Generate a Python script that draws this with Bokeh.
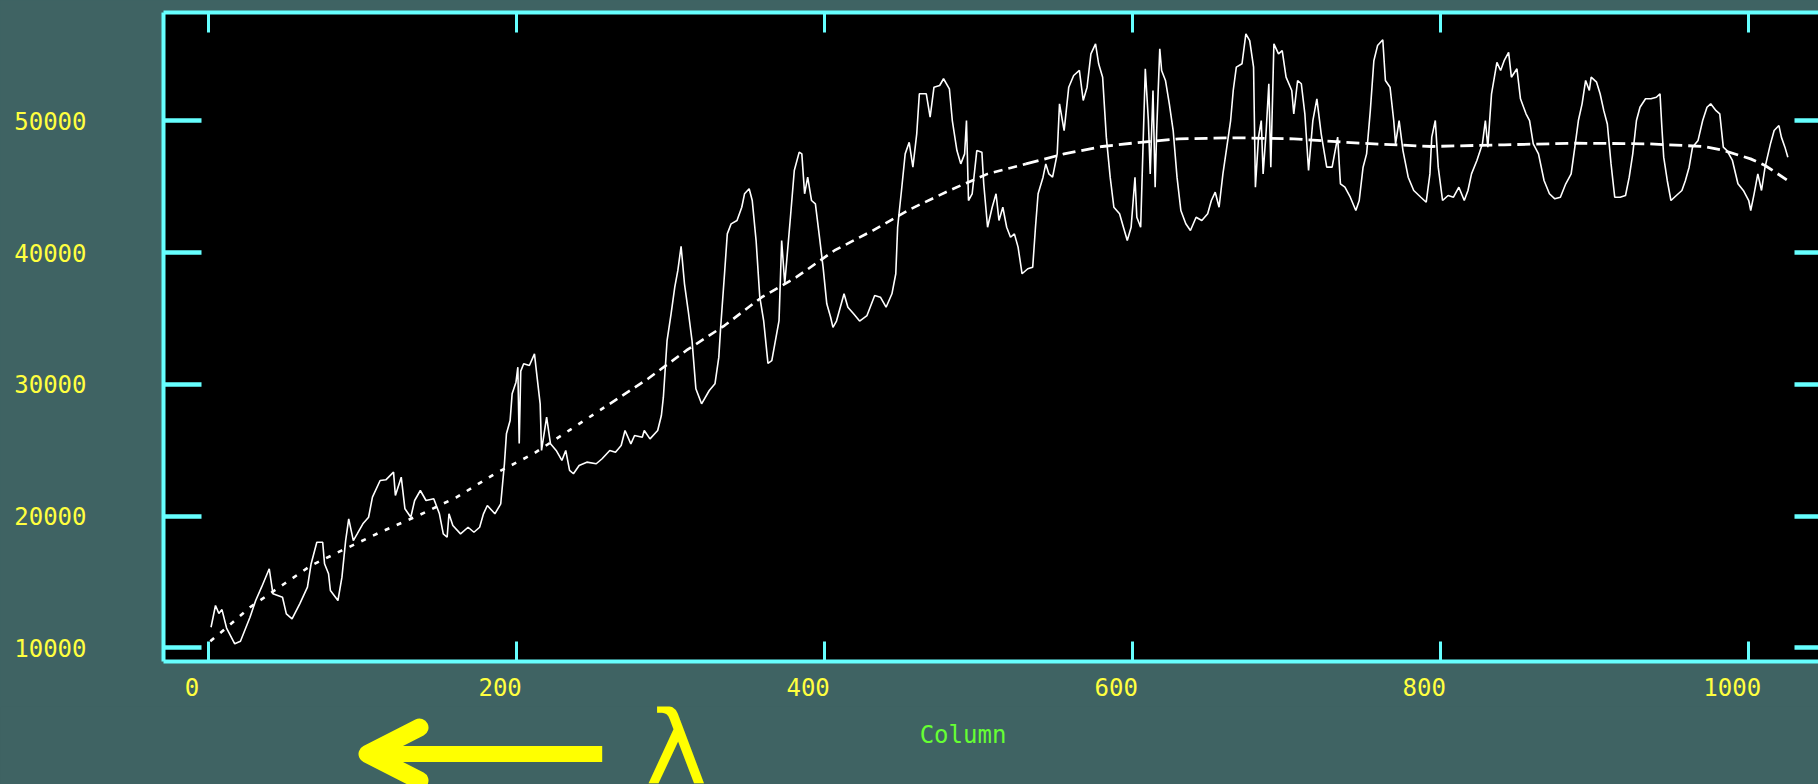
from bokeh.plotting import figure
from bokeh.models import LinearAxis, FixedTicker, Range1d
from bokeh.layouts import column as bk_column
from bokeh.core.properties import value
from bokeh.embed import file_html
from bokeh.resources import INLINE

# ---------------- data ----------------
column = [1.9, 4.8, 7, 9, 12, 17.3, 21, 27.2, 30.9, 34.7, 39.7, 42.1, 48.3, 50.8, 54.5, 59.5, 64.5, 66.9,
          70.6, 74.4, 75.6, 78.2, 79.4, 84.3, 86.9, 89.3, 91.3, 94.3, 96.8, 100.5, 104.2, 106.7, 111.7,
          115.4, 120.4, 121.6, 125.4, 127.8, 131.6, 134.1, 137.8, 141.5, 146.5, 150.2, 152.7, 155.2,
          156.4, 158.9, 163.9, 168.8, 172.6, 176.3, 178.8, 181.3, 186.2, 190, 191.2, 192.4, 193.7, 196.1,
          197.4, 199.9, 201.1, 202, 203, 204.9, 208.6, 211.9, 213.6, 215.6, 216.5, 219.8, 222.3, 226,
          229.7, 232.2, 234.7, 237.2, 240.9, 245.9, 252, 255.8, 260.8, 264.5, 268.2, 270.7, 274.5, 276.9,
          281.9, 283.2, 286.9, 291.9, 294.3, 295.6, 298, 300.6, 303, 305, 307.1, 309.3, 311.7, 314.2,
          316.7, 320.4, 325.4, 329.1, 331.6, 332.8, 335.3, 337.1, 339.6, 343.4, 346.5, 348.3, 351.3,
          353.3, 355.8, 358.2, 360.7, 363.5, 366, 370.7, 372.4, 374.4, 378.1, 380.6, 383.8, 385.5, 387.3,
          389.3, 391.8, 394.3, 396.7, 399.3, 401.7, 404.2, 405.7, 408, 412.9, 415.4, 419.1, 423, 427.8,
          432.8, 436.5, 440.2, 444, 446.5, 447.7, 450.2, 452.6, 455.2, 457.6, 460.1, 461.8, 466.3, 468.8,
          471.3, 475, 477.5, 481.3, 483.2, 486.2, 488.7, 491.2, 492.4, 493.7, 496.1, 499.1, 502.4, 503.6,
          506.1, 509.1, 511.6, 513.5, 516, 518.5, 521, 523.5, 525.9, 528.5, 532.2, 535.4, 537.2, 538.9,
          542.1, 543.9, 545.9, 548.3, 551.3, 552.8, 555.8, 558.8, 562, 565.7, 568.2, 570.7, 573.2, 576.2,
          578.2, 580.8, 583.2, 585.7, 588.1, 591.8, 594.3, 596.8, 599.3, 601.8, 603, 605.5, 608.5, 610.5,
          611.7, 613.5, 614.9, 615.9, 617.9, 619.1, 621.6, 624.1, 626.6, 629.1, 631.6, 634.8, 637.8,
          641.5, 645.2, 649, 651.4, 653.9, 656.4, 658.9, 661.4, 663.9, 665.6, 667.6, 671.3, 673.8, 676.3,
          678.8, 680, 682, 683.8, 685, 687, 688.7, 690, 692, 695, 697.4, 699.9, 703.6, 704.9, 707.4,
          709.8, 712.1, 714.5, 717.3, 719.9, 722.7, 726.3, 729.8, 733.4, 735.2, 738.1, 741.6, 745.2,
          747.4, 749.9, 752.2, 754.6, 756.9, 759.3, 762.7, 764.4, 767.4, 769.8, 771, 773.3, 775.8, 779.2,
          782.8, 787.4, 790.9, 793.3, 794.5, 796.8, 798.7, 801.5, 805.1, 808.6, 812.1, 815.6, 818, 820.3,
          823.8, 827.4, 829.3, 830.9, 833.3, 836.8, 839.2, 841.5, 844.4, 846.2, 849.8, 852.1, 855.7, 858,
          860.4, 863.8, 867.4, 870.9, 874.4, 878, 881.5, 885, 887.4, 889.7, 892.1, 894.4, 896.8, 898,
          901.5, 903.8, 906.2, 908.5, 910.9, 913.3, 916.8, 920.3, 922.7, 925, 927.4, 929.7, 933.3, 936.8,
          940.3, 942.7, 943.9, 945.1, 947.4, 949.8, 953.3, 956.9, 959.2, 961.6, 963.8, 967.4, 970.4,
          973.2, 975.6, 979.1, 981.5, 983.8, 986.2, 989.7, 993.3, 996.8, 1000.3, 1001.6, 1003.8, 1006.2,
          1008.6, 1010.9, 1014.4, 1016.8, 1019.9, 1021.5, 1023.8, 1025.7]
counts = [11560, 13210, 12600, 12900, 11500, 10300, 10500, 12320, 13590, 14600, 16000, 14100, 13840, 12580,
          12200, 13340, 14600, 16380, 18010, 18010, 16380, 15620, 14350, 13590, 15360, 18140, 19790, 18140,
          18650, 19410, 19910, 21430, 22700, 22750, 23330, 21560, 22950, 20550, 19910, 21180, 21940, 21180,
          21310, 20170, 18650, 18390, 20170, 19280, 18650, 19150, 18770, 19150, 20170, 20800, 20170, 20930,
          22450, 23970, 26240, 27250, 29280, 30160, 31300, 25500, 31000, 31560, 31430, 32310, 30540, 28520,
          24980, 27500, 25480, 24980, 24220, 24980, 23460, 23210, 23840, 24090, 23970, 24350, 24980, 24850,
          25350, 26490, 25480, 26110, 25980, 26490, 25860, 26490, 27630, 29020, 33320, 35350, 37370, 38640,
          40470, 37630, 35600, 33320, 29660, 28520, 29530, 30040, 32060, 34330, 38390, 41420, 42180, 42430,
          43440, 44460, 44840, 43950, 40910, 36610, 34840, 31590, 31800, 34840, 40910, 37630, 42680, 46230,
          47620, 47490, 44460, 45720, 43950, 43700, 41420, 38890, 36110, 35090, 34320, 34800, 36870, 35850,
          35350, 34800, 35220, 36740, 36610, 35850, 36870, 38390, 41920, 44710, 47490, 48370, 46480, 49010,
          52050, 52050, 50270, 52550, 52680, 53190, 52430, 50020, 47740, 46730, 47490, 50020, 43950, 44460,
          47740, 47620, 45220, 41920, 43440, 44460, 42430, 43440, 41920, 41160, 41420, 40410, 38390, 38770,
          38890, 41920, 44460, 45720, 46730, 45970, 45720, 47490, 51290, 49260, 52550, 53440, 53820, 51540,
          52550, 55080, 55840, 54330, 53310, 48760, 45720, 43440, 42940, 41920, 40910, 41920, 45720, 42680,
          41920, 53950, 50020, 45970, 52300, 44960, 49260, 55460, 53820, 53060, 51290, 49260, 45720, 43190,
          42180, 41670, 42680, 42430, 42940, 43950, 44580, 43440, 45970, 47990, 50020, 52300, 54070, 54330,
          56600, 56090, 54070, 44960, 48760, 50020, 45970, 49260, 52810, 46480, 55840, 55080, 55330, 53310,
          52300, 50530, 53060, 52810, 50530, 46230, 50020, 51670, 49010, 46480, 46480, 48760, 45220, 44960,
          44200, 43190, 43950, 46480, 47490, 50770, 54560, 55710, 56150, 53060, 52550, 50020, 48250, 50020,
          47740, 45720, 44710, 44200, 43820, 45970, 48760, 50020, 46480, 43950, 44330, 44200, 44960, 43950,
          44710, 45970, 46990, 48250, 50020, 48000, 52050, 54430, 53820, 54560, 55200, 53310, 53950, 51670,
          50530, 50020, 48250, 47490, 45470, 44460, 44080, 44200, 45220, 45970, 48000, 50020, 51290, 53060,
          52300, 53310, 52930, 52050, 50770, 49760, 46730, 44200, 44200, 44330, 45720, 47490, 50020, 51030,
          51670, 51670, 51790, 52050, 49510, 47240, 45470, 43950, 44330, 44710, 45470, 46480, 48000, 48510,
          50020, 51030, 51290, 50770, 50530, 48000, 47740, 46990, 45220, 44710, 43950, 43190, 44460, 45970,
          44710, 46480, 48250, 49260, 49640, 48760, 48000, 47240]

fit_column = [1.4, 12.3, 27.2, 49.5, 66.9, 86.9, 111.7, 136.5, 161.4, 186.2, 211.1, 236, 260.8, 285.6,
              310.5, 335.3, 359.5, 381.9, 406.7, 431.5, 456.4, 481.3, 506.1, 531, 555.8, 580.6, 605.5,
              630.3, 667.6, 704.9, 747.4, 794.5, 841.5, 888.5, 935.6, 970.9, 982.6, 1001.5, 1010.9, 1025]
fit_counts = [10500, 11560, 13080, 14860, 16250, 17390, 18770, 20040, 21430, 23210, 24720, 26620, 28520,
              30420, 32570, 34460, 36610, 38130, 40160, 41670, 43320, 44710, 45970, 46730, 47490, 48050,
              48370, 48630, 48710, 48630, 48300, 48050, 48180, 48300, 48250, 48050, 47800, 47110, 46610, 45520]

x_ticks = [0, 200, 400, 600, 800, 1000]
y_ticks = [10000, 20000, 30000, 40000, 50000]
x_title = "Column"
lambda_text = "λ"

# ---------------- styling ----------------
BG = "#3f6363"
CYAN = "#66ffff"
YEL = "#ffff3f"
GREEN = "#66ff33"
ARROW_YEL = "#ffff00"
FONT = "DejaVu Sans Mono"
FSIZE = "24px"
W = 1818
H_TOP = 706
H_BOT = 784 - H_TOP

p = figure(width=W, height=H_TOP,
           x_range=Range1d(-28.96, 1045.6), y_range=Range1d(8960, 58220),
           output_backend="svg", toolbar_location=None, frame_align=False,
           min_border_left=163, min_border_right=0, min_border_top=12, min_border_bottom=H_TOP - 661,
           background_fill_color="black", border_fill_color=BG, outline_line_color=None)
p.grid.visible = False
p.extra_x_ranges = {"lbl": Range1d(-28.96 + 10.4, 1045.6 + 10.4)}


def ticks_only(ax, tick_in, tick_w):
    ax.major_tick_line_color = CYAN
    ax.major_tick_line_width = tick_w
    ax.major_tick_in = tick_in
    ax.major_tick_out = 0
    ax.minor_tick_line_color = None
    ax.major_label_text_color = None
    ax.major_label_text_font_size = "1px"
    ax.major_label_standoff = 0


# bottom axis: line + ticks
xa = p.xaxis[0]
xa.ticker = FixedTicker(ticks=x_ticks)
xa.axis_line_color = CYAN
xa.axis_line_width = 4
ticks_only(xa, 20, 3)

# bottom tick labels (drawn slightly left of the ticks, as in the original)
xl = LinearAxis(x_range_name="lbl", ticker=FixedTicker(ticks=x_ticks),
                axis_line_color=None, major_tick_line_color=None, minor_tick_line_color=None,
                major_tick_in=0, major_tick_out=0, major_label_standoff=16,
                major_label_text_color=YEL, major_label_text_font=FONT,
                major_label_text_font_size=FSIZE)
p.add_layout(xl, "below")

# left axis
ya = p.yaxis[0]
ya.ticker = FixedTicker(ticks=y_ticks)
ya.axis_line_color = CYAN
ya.axis_line_width = 4
ya.major_tick_line_color = CYAN
ya.major_tick_line_width = 4.5
ya.major_tick_in = 38
ya.major_tick_out = 0
ya.minor_tick_line_color = None
ya.major_label_standoff = 77
ya.major_label_text_color = YEL
ya.major_label_text_font = FONT
ya.major_label_text_font_size = FSIZE

# top axis: line + ticks
xt = LinearAxis(ticker=FixedTicker(ticks=x_ticks), axis_line_color=CYAN, axis_line_width=4)
ticks_only(xt, 20, 3)
p.add_layout(xt, "above")

# right side: ticks only
yr = LinearAxis(ticker=FixedTicker(ticks=y_ticks), axis_line_color=None)
ticks_only(yr, 24, 4.5)
p.add_layout(yr, "right")

# data
p.line(column, counts, line_color="white", line_width=1.6)
p.line(fit_column[:13], fit_counts[:13], line_color="white", line_width=2.6, line_dash="5 8")
p.line(fit_column[12:24], fit_counts[12:24], line_color="white", line_width=2.6, line_dash="9 6")
p.line(fit_column[23:], fit_counts[23:], line_color="white", line_width=2.8, line_dash="13 6")

# ---------------- strip under the plot: axis title, arrow, lambda ----------------
# coordinates here are page pixels (x from left, y from top)
q = figure(width=W, height=H_BOT, x_range=Range1d(0, W), y_range=Range1d(784, H_TOP),
           output_backend="svg", toolbar_location=None, x_axis_type=None, y_axis_type=None,
           frame_align=False,
           min_border_left=0, min_border_right=0, min_border_top=0, min_border_bottom=0,
           background_fill_color=BG, border_fill_color=BG, outline_line_color=None)
q.grid.visible = False

q.text(x=[962.5], y=[734.7], text=[x_title], text_align="center", text_baseline="alphabetic",
       text_color=GREEN, text_font=value(FONT), text_font_size=FSIZE)
q.line(x=[367, 601.7], y=[753.5, 753.5], line_color=ARROW_YEL, line_width=16, line_cap="butt")
q.line(x=[419, 367, 419], y=[727, 753.5, 780], line_color=ARROW_YEL, line_width=18,
       line_cap="round", line_join="round")
q.text(x=[645], y=[747], text=[lambda_text], text_align="left", text_baseline="alphabetic",
       text_color=ARROW_YEL, text_font=value("DejaVu Sans"), text_font_size="104px")

layout = bk_column(p, q, spacing=0, styles={"background-color": BG})
open("out.html", "w").write(file_html(layout, INLINE))
